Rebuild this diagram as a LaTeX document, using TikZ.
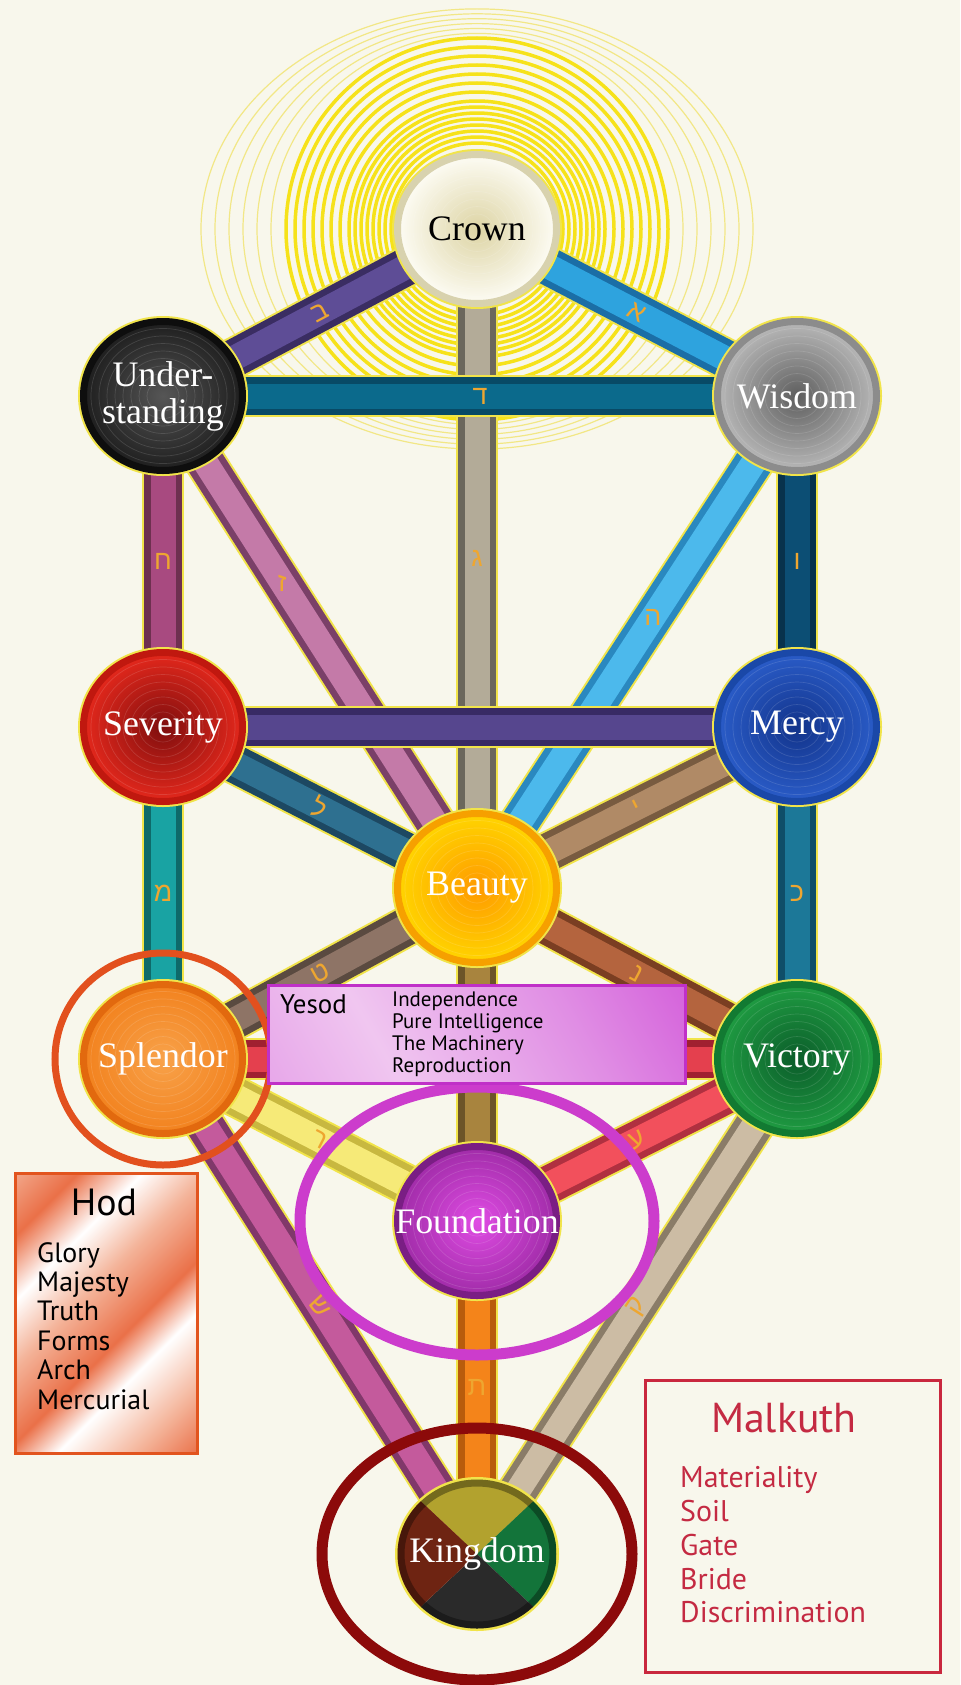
\documentclass[tikz,border=0pt]{standalone}
\usepackage{fontspec}
\setmainfont{Liberation Serif}
\setsansfont{PT Sans}
\newfontfamily\hebfont[Script=Hebrew]{Liberation Sans}
\usetikzlibrary{shapes.geometric, positioning}

% background and outlines
\definecolor{paper}{HTML}{F8F7EC}
\definecolor{edgeyellow}{HTML}{F1E44A}
\definecolor{sunyellow}{HTML}{F6E21A}
\definecolor{sunpale}{HTML}{F2E786}
\definecolor{lettergold}{HTML}{EEA630}

% sephiroth
\definecolor{crownin}{HTML}{DDD4A4}  \definecolor{crownout}{HTML}{FDFCF4} \definecolor{crownrim}{HTML}{D8D2AE}
\definecolor{undin}{HTML}{565656}    \definecolor{undout}{HTML}{1E1E1E}   \definecolor{undrim}{HTML}{0E0E0E}
\definecolor{wisin}{HTML}{5E5E5E}    \definecolor{wisout}{HTML}{B8B8B8}   \definecolor{wisrim}{HTML}{8C8C8C}
\definecolor{sevin}{HTML}{7E0E0E}    \definecolor{sevout}{HTML}{E4281C}   \definecolor{sevrim}{HTML}{C0180F}
\definecolor{merin}{HTML}{12338A}    \definecolor{merout}{HTML}{2A5CC8}   \definecolor{merrim}{HTML}{1A48A8}
\definecolor{beain}{HTML}{FF9A00}    \definecolor{beaout}{HTML}{FFD500}   \definecolor{bearim}{HTML}{F6A000}
\definecolor{splin}{HTML}{F8A24A}    \definecolor{splout}{HTML}{F2821E}   \definecolor{splrim}{HTML}{E2690E}
\definecolor{vicin}{HTML}{0B5C2A}    \definecolor{vicout}{HTML}{1F9C42}   \definecolor{vicrim}{HTML}{127A32}
\definecolor{fouin}{HTML}{E04CE4}    \definecolor{fouout}{HTML}{A02CA8}   \definecolor{fourim}{HTML}{7A1E84}
\definecolor{kingtop}{HTML}{B2A22E}  \definecolor{kingright}{HTML}{13743A}
\definecolor{kingbottom}{HTML}{2A2A2A} \definecolor{kingleft}{HTML}{6E2412}

% paths: main / dark edge
\definecolor{beth}{HTML}{5E4D96}   \definecolor{bethdark}{HTML}{3A2D62}
\definecolor{aleph}{HTML}{2EA3DE}  \definecolor{alephdark}{HTML}{1B6EA6}
\definecolor{gimel}{HTML}{B3AB98}  \definecolor{gimeldark}{HTML}{6B675C}
\definecolor{daleth}{HTML}{0B6A8C} \definecolor{dalethdark}{HTML}{084A66}
\definecolor{cheth}{HTML}{A84A80}  \definecolor{chethdark}{HTML}{6E3050}
\definecolor{zain}{HTML}{C47AA8}   \definecolor{zaindark}{HTML}{7A4068}
\definecolor{vau}{HTML}{0C4E74}    \definecolor{vaudark}{HTML}{08324C}
\definecolor{he}{HTML}{4CB9EC}     \definecolor{hedark}{HTML}{2A88BF}
\definecolor{sevmer}{HTML}{56468E} \definecolor{sevmerdark}{HTML}{382A64}
\definecolor{lamed}{HTML}{2E7090}  \definecolor{lameddark}{HTML}{1D4862}
\definecolor{yod}{HTML}{B08A66}    \definecolor{yoddark}{HTML}{785B40}
\definecolor{mem}{HTML}{19A3A3}    \definecolor{memdark}{HTML}{0E6A6A}
\definecolor{kaph}{HTML}{1C7898}   \definecolor{kaphdark}{HTML}{0F4E68}
\definecolor{teth}{HTML}{8E7466}   \definecolor{tethdark}{HTML}{5A4A40}
\definecolor{nun}{HTML}{B4643E}    \definecolor{nundark}{HTML}{7A3E22}
\definecolor{beafou}{HTML}{A8843E} \definecolor{beafoudark}{HTML}{6C5428}
\definecolor{splvic}{HTML}{E4404E} \definecolor{splvicdark}{HTML}{A02030}
\definecolor{resh}{HTML}{F6EA78}   \definecolor{reshdark}{HTML}{C8B840}
\definecolor{ayin}{HTML}{F2505C}   \definecolor{ayindark}{HTML}{B03040}
\definecolor{shin}{HTML}{C45A9C}   \definecolor{shindark}{HTML}{80386A}
\definecolor{qoph}{HTML}{CCBCA4}   \definecolor{qophdark}{HTML}{8A7C68}
\definecolor{tau}{HTML}{F4841A}    \definecolor{taudark}{HTML}{B85C0C}

% boxes
\definecolor{hodedge}{HTML}{E2541E}
\definecolor{hodorange}{HTML}{EA7048}
\definecolor{hodmid}{HTML}{F4B49A}
\definecolor{yesodedge}{HTML}{C030C8}
\definecolor{yesodlight}{HTML}{F0C6F0}
\definecolor{yesodpink}{HTML}{E08EE4}
\definecolor{yesoddeep}{HTML}{CC40D4}
\definecolor{malkedge}{HTML}{C9283E}
\definecolor{malktext}{HTML}{C42A42}
\definecolor{splring}{HTML}{E2501E}
\definecolor{foung}{HTML}{CC3CCC}
\definecolor{kingring}{HTML}{8C0A0A}

\pgfdeclarehorizontalshading{hodshade}{100bp}{color(0bp)=(white); color(12bp)=(hodmid); color(24bp)=(hodorange); color(34bp)=(white); color(44bp)=(hodmid); color(56bp)=(hodorange); color(64bp)=(white); color(76bp)=(hodmid); color(86bp)=(hodorange); color(100bp)=(white)}
\pgfdeclarehorizontalshading{yesodshade}{100bp}{color(0bp)=(yesodpink); color(35bp)=(yesodlight); color(65bp)=(yesodpink); color(100bp)=(yesoddeep)}

\newcommand{\sephfont}{\fontsize{36}{37}\selectfont}
\newcommand{\sname}[1]{\makebox[0pt]{#1}}
\newcommand{\hebletter}{\hebfont\fontsize{27}{27}\selectfont}
\newcommand{\hodtitlefont}{\sffamily\fontsize{38}{40}\selectfont}
\newcommand{\hoditemfont}{\sffamily\fontsize{28}{29.5}\selectfont}
\newcommand{\malktitlefont}{\sffamily\fontsize{42}{44}\selectfont}
\newcommand{\malkitemfont}{\sffamily\fontsize{30}{34}\selectfont}
\newcommand{\yesodtitlefont}{\sffamily\fontsize{27}{28}\selectfont}
\newcommand{\yesoditemfont}{\sffamily\fontsize{21}{22}\selectfont}

\pgfdeclarelayer{back}
\pgfdeclarelayer{bars}
\pgfsetlayers{back,bars,main}

\begin{document}
\begin{tikzpicture}[x=1bp, y=-1bp,
    sephira/.style n args={3}{ellipse, minimum width=159bp, minimum height=149bp, inner sep=0pt,
        inner color=#1, outer color=#2, draw=#3, line width=7bp,
        preaction={draw=edgeyellow, line width=11bp},
        path picture={\foreach \k in {2,...,9} \draw[white, opacity=0.13, line width=0.7bp] (path picture bounding box.center) ellipse [x radius=8*\k, y radius=7.5*\k];},
        text=white, font=\sephfont, align=center},
    kingdomnode/.style={ellipse, minimum width=159bp, minimum height=149bp, inner sep=0pt,
        preaction={draw=edgeyellow, line width=5bp}, text=white, font=\sephfont},
    bar/.style 2 args={draw=#2, line width=38bp, preaction={draw=edgeyellow, line width=42bp}, postaction={draw=#1, line width=25bp}},
    letter/.style={text=lettergold, font=\hebletter, inner sep=0pt},
    infobox/.style={draw, rectangle, line width=3bp, inner sep=0pt},
    halo/.style={line width=11bp}]

    \useasboundingbox (0,0) rectangle (960,1685);

    % background and the light round the crown
    \begin{pgfonlayer}{back}
        \fill[paper] (0,0) rectangle (960,1685);
        \foreach \r in {86,92,...,128}
            \draw[sunyellow, line width=3.5bp] (477,229) circle [radius=\r];
        \foreach \r in {137,146,...,191}
            \draw[sunyellow, line width=3.5bp] (477,229) circle [radius=\r];
        \foreach \r in {206,220,...,276}
            \draw[sunpale, line width=1.2bp] (477,229) ellipse [x radius=\r, y radius={190+0.35*(\r-190)}];
    \end{pgfonlayer}

    % sephiroth
    \node[sephira={crownin}{crownout}{crownrim}, text=black] (crown) at (477,229) {\sname{Crown}};
    \node[sephira={undin}{undout}{undrim}] (understanding) at (163,396) {\sname{Under-}\\\sname{standing}};
    \node[sephira={wisin}{wisout}{wisrim}] (wisdom) at (797,396) {\sname{Wisdom}};
    \node[sephira={sevin}{sevout}{sevrim}] (severity) at (163,727) {\sname{Severity}};
    \node[sephira={merin}{merout}{merrim}] (mercy) at (797,727) {\sname{Mercy}};
    \node[sephira={beain}{beaout}{bearim}] (beauty) at (477,888) {\sname{Beauty}};
    \node[sephira={splin}{splout}{splrim}] (splendor) at (163,1059) {\sname{Splendor}};
    \node[sephira={vicin}{vicout}{vicrim}] (victory) at (797,1059) {\sname{Victory}};
    \node[sephira={fouin}{fouout}{fourim}] (foundation) at (477,1221) {\sname{Foundation}};
    \node[kingdomnode, path picture={
            \fill[kingtop] (path picture bounding box.center) -- (path picture bounding box.north west) -- (path picture bounding box.north east) -- cycle;
            \fill[kingright] (path picture bounding box.center) -- (path picture bounding box.north east) -- (path picture bounding box.south east) -- cycle;
            \fill[kingbottom] (path picture bounding box.center) -- (path picture bounding box.south east) -- (path picture bounding box.south west) -- cycle;
            \fill[kingleft] (path picture bounding box.center) -- (path picture bounding box.south west) -- (path picture bounding box.north west) -- cycle;
            \draw[black, opacity=0.35, line width=14bp] (path picture bounding box.center) ellipse [x radius=79.5, y radius=74.5];
        }] (kingdom) at (477,1554) {\sname{Kingdom}};

    % paths
    \begin{pgfonlayer}{bars}
        \draw[bar={gimel}{gimeldark}] (crown.center) -- (beauty.center) node[letter, pos=0.5] {ג};
        \draw[bar={cheth}{chethdark}] (understanding.center) -- (severity.center) node[letter, midway] {ח};
        \draw[bar={zain}{zaindark}] (understanding.center) -- (beauty.center) node[letter, pos=0.38] {ז};
        \draw[bar={vau}{vaudark}] (wisdom.center) -- (mercy.center) node[letter, midway] {ו};
        \draw[bar={he}{hedark}] (wisdom.center) -- (beauty.center) node[letter, pos=0.45] {ה};
        \draw[bar={beth}{bethdark}] (crown.center) -- (understanding.center) node[letter, midway, sloped] {ב};
        \draw[bar={aleph}{alephdark}] (crown.center) -- (wisdom.center) node[letter, midway, sloped] {א};
        \draw[bar={daleth}{dalethdark}] (understanding.center) -- (wisdom.center) node[letter, midway] {ד};
        \draw[bar={lamed}{lameddark}] (severity.center) -- (beauty.center) node[letter, midway, sloped] {ל};
        \draw[bar={yod}{yoddark}] (mercy.center) -- (beauty.center) node[letter, midway, sloped] {י};
        \draw[bar={sevmer}{sevmerdark}] (severity.center) -- (mercy.center);
        \draw[bar={mem}{memdark}] (severity.center) -- (splendor.center) node[letter, midway] {מ};
        \draw[bar={kaph}{kaphdark}] (mercy.center) -- (victory.center) node[letter, midway] {כ};
        \draw[bar={splvic}{splvicdark}] (splendor.center) -- (victory.center);
        \draw[bar={beafou}{beafoudark}] (beauty.center) -- (foundation.center);
        \draw[bar={teth}{tethdark}] (beauty.center) -- (splendor.center) node[letter, midway, sloped] {ט};
        \draw[bar={nun}{nundark}] (beauty.center) -- (victory.center) node[letter, midway, sloped] {נ};
        \draw[bar={resh}{reshdark}] (splendor.center) -- (foundation.center) node[letter, midway, sloped] {ר};
        \draw[bar={ayin}{ayindark}] (victory.center) -- (foundation.center) node[letter, midway, sloped] {ע};
        \draw[bar={tau}{taudark}] (foundation.center) -- (kingdom.center) node[letter, midway] {ת};
        \draw[bar={shin}{shindark}] (splendor.center) -- (kingdom.center) node[letter, midway, sloped] {ש};
        \draw[bar={qoph}{qophdark}] (victory.center) -- (kingdom.center) node[letter, midway, sloped] {ק};
    \end{pgfonlayer}

    % rings round three sephiroth
    \draw[halo, splring, line width=7bp] (splendor.center) ellipse [x radius=108, y radius=106];
    \draw[halo, foung] (foundation.center) ellipse [x radius=177, y radius=134];
    \draw[halo, kingring] (kingdom.center) ellipse [x radius=155, y radius=126];

    % Yesod
    \node[infobox, draw=yesodedge, shade, shading=yesodshade, shading angle=30, minimum width=417bp, minimum height=98bp] (yesodbox) at (476.5,1034) {};
    \node[anchor=base west, inner sep=0pt, font=\yesodtitlefont] (yesod) at (280,1013) {Yesod};
    \node[anchor=north west, inner sep=0pt, align=left, font=\yesoditemfont] (yesodlist) at (392,992) {Independence\\Pure Intelligence\\The Machinery\\Reproduction};

    % Hod
    \node[infobox, draw=hodedge, shade, shading=hodshade, shading angle=-45, minimum width=181bp, minimum height=280bp] (hodbox) at (106.5,1313) {};
    \node[anchor=base, inner sep=0pt, font=\hodtitlefont] (hod) at (104,1215) {Hod};
    \node[anchor=north west, inner sep=0pt, align=left, font=\hoditemfont] (hodlist) at (37,1242) {Glory\\Majesty\\Truth\\Forms\\Arch\\Mercurial};

    % Malkuth
    \node[infobox, draw=malkedge, fill=paper, minimum width=295bp, minimum height=292bp] (malkbox) at (792.5,1526) {};
    \node[anchor=base, inner sep=0pt, text=malktext, font=\malktitlefont] (malkuth) at (784,1432) {Malkuth};
    \node[anchor=north west, inner sep=0pt, align=left, text=malktext, font=\malkitemfont] (malklist) at (680,1466) {Materiality\\Soil\\Gate\\Bride\\Discrimination};
\end{tikzpicture}
\end{document}
